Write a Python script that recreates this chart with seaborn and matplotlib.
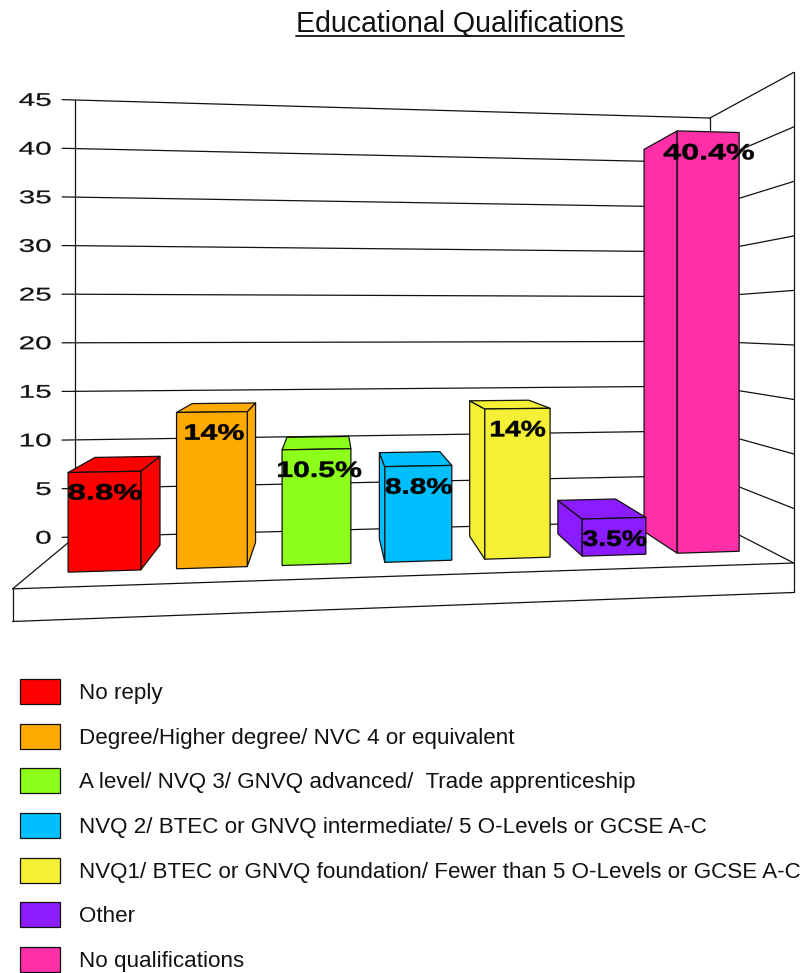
import numpy as np
import pandas as pd
import matplotlib
matplotlib.use("Agg")
import matplotlib.pyplot as plt
import seaborn as sns
from matplotlib.colors import to_rgba
from matplotlib.lines import Line2D
from matplotlib.patches import Patch, Polygon
from matplotlib.text import Text
from matplotlib.textpath import TextPath
from matplotlib.transforms import Affine2D, IdentityTransform, Transform

# ---- chart data -------------------------------------------------------------
qualifications = [
    "No reply",
    "Degree/Higher degree/ NVC 4 or equivalent",
    "A level/ NVQ 3/ GNVQ advanced/  Trade apprenticeship",
    "NVQ 2/ BTEC or GNVQ intermediate/ 5 O-Levels or GCSE A-C",
    "NVQ1/ BTEC or GNVQ foundation/ Fewer than 5 O-Levels or GCSE A-C",
    "Other",
    "No qualifications",
]
shares = [8.8, 14, 10.5, 8.8, 14, 3.5, 40.4]
share_labels = ["8.8%", "14%", "10.5%", "8.8%", "14%", "3.5%", "40.4%"]
value_ticks = [0, 5, 10, 15, 20, 25, 30, 35, 40, 45]
bar_colors = ["#FF0000", "#FFAA00", "#8CFF1A", "#00BFFF", "#F5F035", "#8B1CFF", "#FF2FA8"]
title_text = "Educational Qualifications"

# ---- canvas and text styling ------------------------------------------------
W, H = 801, 973
LINE = "#111111"
LW = 0.9
LABEL_WIDTHS = [73, 58, 83, 66, 54, 63, 90]
LABEL_SHIFTS = [0.5, 2.5, 3, 0.5, 0.5, 0.5, 0.5]

# ---- perspective camera: width runs 0..1, depth 0 (back wall) .. 1 (front) ---
ORIGIN = np.array([75.0, 537.0])
WIDTH_VP = np.array([8000.0, 325.0])
DEPTH_VP = np.array([330.0, 325.0])
WIDTH_W = 0.0871
DEPTH_W = -0.1965
VALUE_PX = 9.711
FIRST_CENTRE = 0.091
CENTRE_STEP = 0.1365
BAR_SHARE = 0.667
FRONT_Z, BACK_Z = 0.7445, 0.246
SLAB = -2.7


def project(world_x, value, depth):
    """Return display coordinates of a point in the room."""
    world_x, value, depth = np.broadcast_arrays(world_x, value, depth)
    w = 1 + WIDTH_W * world_x + DEPTH_W * depth
    px = ORIGIN[0] + WIDTH_VP[0] * WIDTH_W * world_x + DEPTH_VP[0] * DEPTH_W * depth
    py = (ORIGIN[1] + WIDTH_VP[1] * WIDTH_W * world_x + DEPTH_VP[1] * DEPTH_W * depth
          - VALUE_PX * value)
    return np.column_stack([px / w, H - py / w])


def to_world(position):
    return FIRST_CENTRE + CENTRE_STEP * np.asarray(position, dtype=float)


class DepthPlane(Transform):
    """Maps (category position, value) onto the plane at a given depth."""
    input_dims = output_dims = 2
    is_separable = False
    has_inverse = False

    def __init__(self, plane_z):
        super().__init__()
        self.plane_z = plane_z

    def transform_non_affine(self, values):
        values = np.asarray(values, dtype=float)
        return project(to_world(values[:, 0]), values[:, 1], self.plane_z)


class WideText(Text):
    """Text drawn with its glyph outlines stretched horizontally."""

    def __init__(self, x, y, text, stretch=None, ink_width=None, weight_px=0.0, **kwargs):
        super().__init__(x, y, text, **kwargs)
        self.stretch = stretch
        self.ink_width = ink_width
        self.weight_px = weight_px

    def draw(self, renderer):
        if not self.get_visible():
            return
        size = self.get_fontproperties().get_size_in_points() * self.figure.dpi / 72
        path = TextPath((0, 0), self.get_text(), size=size, prop=self.get_fontproperties())
        box = path.get_extents()
        sx = self.stretch if self.ink_width is None else self.ink_width / box.width
        x, y = self.get_transform().transform(self.get_position())
        if self.get_ha() == "right":
            shift = -box.x1
        else:
            shift = -(box.x0 + box.width / 2)
        placed = (Affine2D().translate(shift, -(box.y0 + box.height / 2))
                  .scale(sx, 1).translate(x, y))
        gc = renderer.new_gc()
        gc.set_foreground(self.get_color())
        gc.set_linewidth(self.weight_px * 72 / self.figure.dpi)
        renderer.draw_path(gc, path, placed, rgbFace=to_rgba(self.get_color()))
        gc.restore()


sns.set_theme(style="white")
plt.rcParams["font.family"] = ["Liberation Sans", "DejaVu Sans"]

fig = plt.figure(figsize=(W / 100, H / 100), dpi=100, facecolor="white")
ax = fig.add_axes([0, 0, 1, 1])

frame = pd.DataFrame({"qualification": qualifications, "share": shares})
sns.barplot(
    data=frame, x="qualification", y="share", hue="qualification",
    order=qualifications, hue_order=qualifications, palette=bar_colors,
    saturation=1, width=BAR_SHARE, dodge=False, legend=False,
    edgecolor=LINE, linewidth=LW, ax=ax,
)
ax.set_axis_off()
ax.set_autoscale_on(False)
pixel = IdentityTransform()


def room_line(xs, vs, zs, z=1.0):
    pts = project(xs, vs, zs)
    ax.add_line(Line2D(pts[:, 0], pts[:, 1], color=LINE, lw=LW, transform=pixel,
                       zorder=z, clip_on=False))


# Gridlines on the back and right walls with their tick stubs and labels
for tick in value_ticks:
    room_line([-0.0187, 1], [tick, tick], [0, 0])
    room_line([1, 1], [tick, tick], [0, 1])
    tx, ty = project(-0.0187, tick, 0)[0]
    ax.add_artist(WideText(50.5, ty, str(tick), stretch=1.62, weight_px=0.25, ha="right",
                           va="center", fontsize=13.2, color="#111111", transform=pixel,
                           clip_on=False))

# Wall edges, floor and the slab under it
room_line([0, 0], [0, 45], [0, 0])
room_line([1, 1], [0, 45], [0, 0])
room_line([1, 1], [SLAB, 45], [1, 1])
room_line([0, 0], [0, 0], [0, 1])
room_line([0, 1], [0, 0], [1, 1])
room_line([0, 0], [SLAB, 0], [1, 1])
room_line([0, 1], [SLAB, SLAB], [1, 1])

# Extrude every bar: front from seaborn's rectangle, sides and top from its geometry
for i, (container, color, label, ink, nudge) in enumerate(
        zip(ax.containers, bar_colors, share_labels, LABEL_WIDTHS, LABEL_SHIFTS)):
    bar = container[0]
    left, right = to_world(bar.get_x()), to_world(bar.get_x() + bar.get_width())
    top = bar.get_height()
    order = 3 - 0.1 * i
    bar.set_transform(DepthPlane(FRONT_Z))
    bar.set_clip_on(False)
    bar.set_zorder(order + 0.02)

    def face(corners):
        pts = np.vstack([project(*c) for c in corners])
        ax.add_patch(Polygon(pts, closed=True, facecolor=color, edgecolor=LINE, lw=LW,
                             transform=pixel, zorder=order, clip_on=False,
                             joinstyle="round"))

    if project(right, 0, BACK_Z)[0, 0] > project(right, 0, FRONT_Z)[0, 0]:
        face([(right, 0, FRONT_Z), (right, 0, BACK_Z), (right, top, BACK_Z), (right, top, FRONT_Z)])
    if project(left, 0, BACK_Z)[0, 0] < project(left, 0, FRONT_Z)[0, 0]:
        face([(left, 0, FRONT_Z), (left, 0, BACK_Z), (left, top, BACK_Z), (left, top, FRONT_Z)])
    if project(left, top, BACK_Z)[0, 1] > project(left, top, FRONT_Z)[0, 1]:
        face([(left, top, FRONT_Z), (left, top, BACK_Z), (right, top, BACK_Z), (right, top, FRONT_Z)])

    cx, cy = project((left + right) / 2, top, FRONT_Z)[0]
    ax.add_artist(WideText(cx + nudge, cy - 20, label, ink_width=ink, weight_px=0.5, ha="center",
                           va="center", fontsize=16, fontweight="bold", color="black",
                           transform=pixel, clip_on=False, zorder=6))

# Key beneath the chart
handles = [Patch(facecolor=c, edgecolor=LINE, lw=LW, label=q)
           for c, q in zip(bar_colors, qualifications)]
FONT = 16.1
em = FONT * 100 / 72
ax.legend(
    handles=handles, loc="upper left", bbox_to_anchor=(20, H - 679),
    bbox_transform=pixel, frameon=False, fontsize=FONT, borderpad=0, borderaxespad=0,
    handlelength=40 / em, handleheight=1.34, handletextpad=19 / em,
    labelspacing=19.7 / em, labelcolor="#111111",
)

# Underlined heading
heading = fig.text(460 / W, 1 - 24 / H, title_text, ha="center", va="center",
                   fontsize=20.55, color="#111111")
extent = heading.get_window_extent(fig.canvas.get_renderer())
fig.add_artist(Line2D([extent.x0, extent.x1], [H - 36, H - 36], color="#111111", lw=1.3,
                      transform=pixel))

fig.savefig("out.png", dpi=100, facecolor="white")
